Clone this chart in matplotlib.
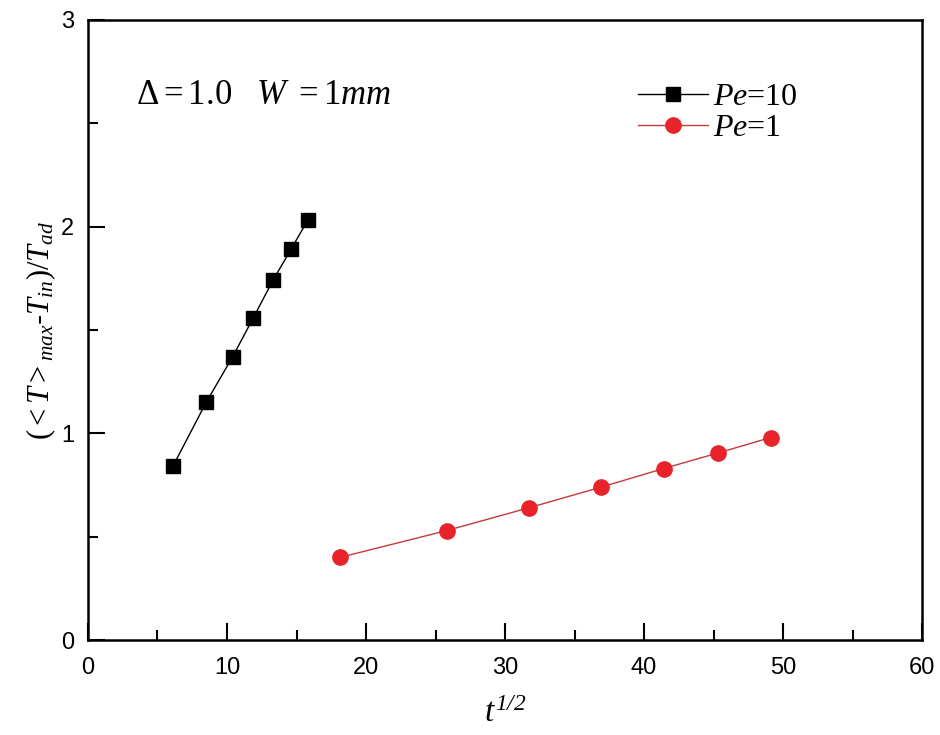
import matplotlib
matplotlib.use('Agg')
import matplotlib.pyplot as plt
from matplotlib.ticker import MultipleLocator

plt.rcParams['font.family'] = ['Liberation Sans', 'DejaVu Sans']
plt.rcParams['mathtext.fontset'] = 'custom'
plt.rcParams['mathtext.rm'] = 'Liberation Serif'
plt.rcParams['mathtext.it'] = 'Liberation Serif:italic'
plt.rcParams['mathtext.bf'] = 'Liberation Serif:bold'
# italic digits for the exponent of the x label
plt.rcParams['mathtext.cal'] = 'Liberation Serif:italic'

# Data
x_pe10 = [6.1, 8.5, 10.4, 11.9, 13.3, 14.6, 15.8]
y_pe10 = [0.84, 1.15, 1.37, 1.56, 1.74, 1.89, 2.03]
x_pe1 = [18.1, 25.8, 31.7, 36.9, 41.4, 45.3, 49.1]
y_pe1 = [0.40, 0.53, 0.64, 0.74, 0.83, 0.905, 0.98]

fig = plt.figure(figsize=(9.4, 7.35), dpi=100)
ax = fig.add_axes([0.0936, 0.129, 0.8874, 0.844])

ax.plot(x_pe10, y_pe10, color='black', lw=1, marker='s', ms=10,
        label='$Pe$=10')
ax.plot(x_pe1, y_pe1, color='#c43a3a', lw=1, marker='o', ms=11,
        markerfacecolor='#e8232a', markeredgecolor='#e8232a',
        label='$Pe$=1')

ax.set_xlim(0, 60)
ax.set_ylim(0, 3)
ax.xaxis.set_major_locator(MultipleLocator(10))
ax.xaxis.set_minor_locator(MultipleLocator(5))
ax.yaxis.set_major_locator(MultipleLocator(1))
ax.yaxis.set_minor_locator(MultipleLocator(0.5))
ax.tick_params(which='major', direction='in', length=12, width=1.5, labelsize=17)
ax.tick_params(axis='x', which='major', pad=12)
ax.tick_params(axis='y', which='major', pad=10)
ax.tick_params(which='minor', direction='in', length=7, width=1.5)
for s in ax.spines.values():
    s.set_linewidth(1.8)

ax.set_xlabel(r'$t^{\mathcal{1/2}}$', fontsize=24, labelpad=14)
ax.set_ylabel('$(<T>_{max}$-$T_{in})/T_{ad}$', fontsize=22, labelpad=2)

ax.text(0.058, 0.88, r'$\Delta = 1.0\quad W\ = 1mm$', transform=ax.transAxes,
        fontsize=25, va='center')

leg = ax.legend(loc='upper left', bbox_to_anchor=(0.625, 0.945), frameon=False,
                prop={'family': 'Liberation Serif', 'size': 23},
                handlelength=2.2, handletextpad=0.15, labelspacing=0.05)

fig.savefig('out.png', dpi=100)
